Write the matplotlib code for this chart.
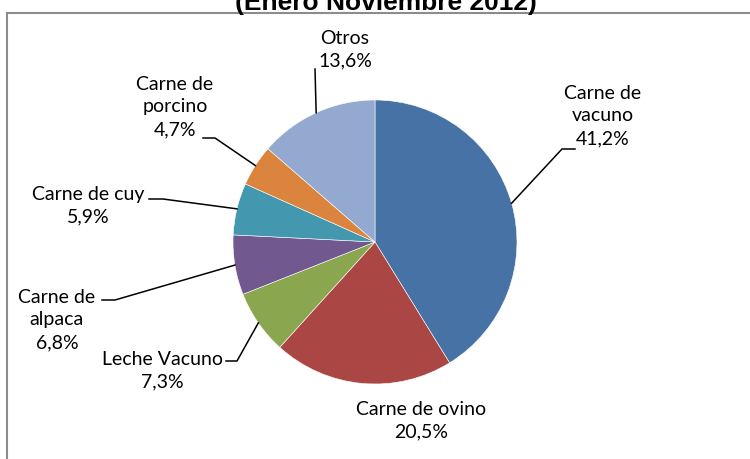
import numpy as np
import matplotlib
matplotlib.use("Agg")
import matplotlib.pyplot as plt
from matplotlib.lines import Line2D

plt.rcParams['font.family'] = ['Lato', 'DejaVu Sans']

# ---- data ----
categories = ["Carne de\nvacuno", "Carne de ovino", "Leche Vacuno", "Carne de\nalpaca",
              "Carne de cuy", "Carne de\nporcino", "Otros"]
shares = [41.2, 20.5, 7.3, 6.8, 5.9, 4.7, 13.6]
pct_labels = ["41,2%", "20,5%", "7,3%", "6,8%", "5,9%", "4,7%", "13,6%"]
colors = ["#4672A6", "#AA4744", "#8AA64F", "#71588F", "#4398AF", "#DA843E", "#93A9CF"]
title = "(Enero Noviembre 2012)"

# ---- layout (pixels) ----
W, H, DPI = 750, 460, 100
CX, CY, R = 375, 243, 142

fig = plt.figure(figsize=(W / DPI, H / DPI), dpi=DPI)
ax = fig.add_axes([(CX - R) / W, (H - CY - R) / H, 2 * R / W, 2 * R / H])

wedges, _ = ax.pie(shares, colors=colors, startangle=90, counterclock=False,
                   radius=1, wedgeprops=dict(edgecolor='white', linewidth=0.4))
ax.set_xlim(-1, 1)
ax.set_ylim(-1, 1)
ax.set_aspect('equal')
ax.axis('off')


def p2d(px, py):
    return ((px - CX) / R, (CY - py) / R)


# label block centers and leader elbow / end points (pixels)
label_pos = [(603, 116), (421, 421), (162, 371), (57, 320), (88, 206), (175, 107), (345, 50)]
leaders = [
    [(562, 150), (575, 150)],
    None,
    [(237, 362), (226, 362)],
    [(115, 301), (102, 301)],
    [(163, 200), (149, 200)],
    [(215, 139), (203, 139)],
    [(315, 70)],
]

for w, cat, pct, lp, ld in zip(wedges, categories, pct_labels, label_pos, leaders):
    x, y = p2d(*lp)
    ax.text(x, y, f"{cat}\n{pct}", ha='center', va='center', fontsize=14,
            linespacing=1.4, color='black', clip_on=False)
    if ld is not None:
        mid = np.deg2rad((w.theta1 + w.theta2) / 2)
        ex, ey = w.r * np.cos(mid), w.r * np.sin(mid)
        pts = [(ex, ey)] + [p2d(*p) for p in ld]
        xs, ys = zip(*pts)
        ax.add_line(Line2D(xs, ys, color='black', linewidth=1.1, clip_on=False))

# title (cut off at the top as in the reference)
fig.text(386 / W, 1 - 10 / H, title, ha='center', va='baseline', fontsize=19,
         fontweight='bold', family=['Liberation Sans', 'DejaVu Sans'])

# chart frame (top and left edges visible)
fig.add_artist(Line2D([7 / W, 1], [1 - 14 / H, 1 - 14 / H], transform=fig.transFigure,
                      color='#8C8C8C', linewidth=1.5))
fig.add_artist(Line2D([7 / W, 7 / W], [0, 1 - 14 / H], transform=fig.transFigure,
                      color='#8C8C8C', linewidth=1.5))

fig.savefig("out.png", dpi=DPI, facecolor='white')
